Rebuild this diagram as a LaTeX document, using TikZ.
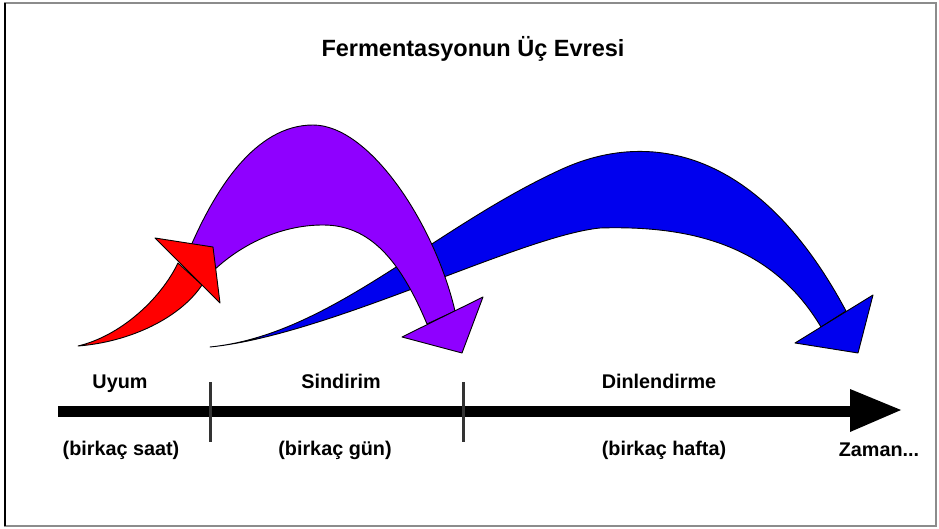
\documentclass[tikz,border=0pt]{standalone}
\usepackage{fontspec}
\setmainfont{Liberation Sans}
\definecolor{fred}{RGB}{255,0,0}
\definecolor{fpurple}{RGB}{143,0,255}
\definecolor{fblue}{RGB}{0,0,238}
\begin{document}
\begin{tikzpicture}[x=1pt,y=-1pt,
  shaft/.style={draw=black, line width=0.9pt, line join=round},
  lbl/.style={font=\bfseries\fontsize{19.8}{24}\selectfont, anchor=base, inner sep=0pt},
  ttl/.style={font=\bfseries\fontsize{23.5}{28}\selectfont, anchor=base, inner sep=0pt},
  tick/.style={line width=3pt, black!80},
]
\useasboundingbox (0,0) rectangle (939,529);
\fill[white] (0,0) rectangle (939,529);
\draw[black!45, line width=2pt] (5,3) rectangle (936,526);
\draw[black, line width=2.5pt] (5,3) -- (5,526);

\node[ttl] (title) at (473,57) {Fermentasyonun Üç Evresi};

% blue arrow
\draw[shaft, fill=fblue] (210,347) .. controls (330,335) and (430,230) .. (560,170)
  .. controls (650,128) and (760,150) .. (846,311) -- (821,327)
  .. controls (775,250) and (700,225) .. (600,228)
  .. controls (520,236) and (330,335) .. (210,347) -- cycle;
\draw[shaft, fill=fblue] (795,343) -- (873,295) -- (858,353) -- cycle;

% purple arrow
\draw[shaft, fill=fpurple] (190,248) .. controls (215,190) and (255,125) .. (313,125)
  .. controls (370,125) and (435,225) .. (455,311) -- (427,324)
  .. controls (400,260) and (370,225) .. (323,225)
  .. controls (280,225) and (240,245) .. (212,272) -- cycle;
\draw[shaft, fill=fpurple] (402,337) -- (483,297) -- (462,353) -- cycle;

% red arrow
\draw[shaft, fill=fred] (78,346) .. controls (120,336) and (160,300) .. (178,263)
  -- (202,285) .. controls (180,318) and (130,342) .. (78,346) -- cycle;
\draw[shaft, fill=fred] (155,238) -- (213,247) -- (220,303) -- cycle;

% time line
\coordinate (t0) at (58,411);
\coordinate (t1) at (856,411);
\coordinate (tip) at (901,410);
\draw[line width=11pt] (t0) -- (t1);
\fill (850,389) -- (tip) -- (850,432) -- cycle;
\draw[tick] (210,382) -- (210,442);
\draw[tick] (463,382) -- (463,442);

\node[lbl] (uyum) at (120,388) {Uyum};
\node[lbl] (sind) at (341,388) {Sindirim};
\node[lbl] (dinl) at (659,388) {Dinlendirme};
\node[lbl] (saat) at (121,455) {(birkaç saat)};
\node[lbl] (gun) at (335,455) {(birkaç gün)};
\node[lbl] (hafta) at (664,455) {(birkaç hafta)};
\node[lbl] (zaman) at (879,456) {Zaman...};
\end{tikzpicture}
\end{document}
